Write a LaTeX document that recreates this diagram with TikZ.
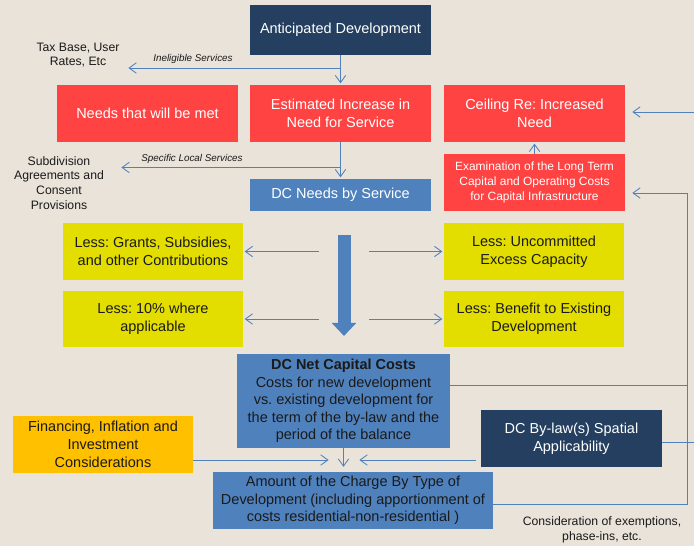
\documentclass[tikz,border=0pt]{standalone}
\usepackage{fontspec}
\setmainfont{Liberation Sans}
\usetikzlibrary{arrows.meta}
\frenchspacing

\definecolor{paper}{HTML}{E9E3DA}
\definecolor{navy}{HTML}{243F60}
\definecolor{alert}{HTML}{FF4343}
\definecolor{steel}{HTML}{4F81BD}
\definecolor{lemon}{HTML}{E3DE00}
\definecolor{amber}{HTML}{FFC000}
\definecolor{ink}{HTML}{1A1A1A}

\begin{document}
\begin{tikzpicture}[
        box/.style={shape=rectangle, inner sep=1pt, align=center, minimum width=4.525cm, minimum height=1.425cm, font=\fontsize{10.3}{12.6}\selectfont},
        dark/.style={box, fill=navy, text=white},
        hot/.style={box, fill=alert, text=white},
        calm/.style={box, fill=steel, text=white},
        less/.style={box, fill=lemon, text=ink, minimum width=4.5cm},
        note/.style={align=center, text=ink, font=\fontsize{8.7}{10.5}\selectfont},
        tag/.style={text=ink, font=\fontsize{7}{8}\selectfont\itshape},
        link/.style={draw=steel, line width=0.6pt},
        flow/.style={link, -{Straight Barb[length=1.8mm, width=2.6mm]}, shorten >=1pt}
    ]
        \fill[paper] (0, 0) rectangle (17.35, 13.65);
        \useasboundingbox (0, 0) rectangle (17.35, 13.65);

        \node[dark, minimum height=1.25cm] (B1) at (8.5125, 12.9) {Anticipated Development};
        \node[hot] (B2) at (3.6875, 10.8125) {Needs that will be met};
        \node[hot] (B3) at (8.5125, 10.8125) {Estimated Increase in\\Need for Service};
        \node[hot] (B4) at (13.3625, 10.8125) {Ceiling Re: Increased\\Need};
        \node[hot, font=\fontsize{8.5}{10.6}\selectfont] (B5) at (13.3625, 9.0875) {Examination of the Long Term\\Capital and Operating Costs\\for Capital Infrastructure};
        \node[calm, minimum height=0.8cm] (B6) at (8.5125, 8.775) {DC Needs by Service};
        \node[less] (B7) at (3.825, 7.3625) {Less: Grants, Subsidies,\\and other Contributions};
        \node[less] (B8) at (13.35, 7.3625) {Less: Uncommitted\\Excess Capacity};
        \node[less, minimum height=1.4cm] (B9) at (3.825, 5.675) {Less: 10\% where\\applicable};
        \node[less, minimum height=1.4cm] (B10) at (13.35, 5.675) {Less: Benefit to Existing\\Development};
        \node[calm, text=ink, minimum width=5.325cm, minimum height=2.35cm, font=\fontsize{10.3}{12.4}\selectfont] (B11) at (8.5875, 3.625) {\textbf{DC Net Capital Costs}\\Costs for new development\\vs. existing development for\\the term of the by-law and the\\period of the balance};
        \node[box, fill=amber, text=ink, minimum width=4.5cm] (B12) at (2.575, 2.5375) {Financing, Inflation and\\Investment\\Considerations};
        \node[dark] (B13) at (14.2875, 2.6875) {DC By-law(s) Spatial\\Applicability};
        \node[calm, text=ink, minimum width=7cm] (B14) at (8.825, 1.1375) {Amount of the Charge By Type of\\Development (including apportionment of\\costs residential-non-residential )};

        \node[note] (L1) at (1.95, 12.275) {Tax Base, User\\Rates, Etc};
        \node[note] (L2) at (1.475, 9.075) {Subdivision\\Agreements and\\Consent\\Provisions};
        \node[note] (L3) at (15.05, 0.4) {Consideration of exemptions,\\phase-ins, etc.};
        \node[tag] (L4) at (4.825, 12.175) {Ineligible Services};
        \node[tag] (L5) at (4.8, 9.675) {Specific Local Services};

        \coordinate (C1) at (8.5125, 11.95);
        \coordinate (C2) at (3.175, 11.95);
        \coordinate (C3) at (8.5125, 9.4625);
        \coordinate (C4) at (3.0, 9.4625);
        \coordinate (C5) at (8.6, 7.775);
        \coordinate (C6) at (8.6, 5.25);
        \coordinate (C7) at (7.975, 0);
        \coordinate (C8) at (9.225, 0);
        \coordinate (C9) at (8.25, 2.15);
        \coordinate (C10) at (8.95, 2.15);
        \coordinate (C11) at (17.175, 4.025);
        \coordinate (C12) at (17.175, 1.05);
        \coordinate (C13) at (17.175, 8.825);
        \coordinate (C14) at (17.35, 2.6);
        \coordinate (C15) at (17.35, 10.85);

        \draw[flow] (B1) -- (B3);
        \draw[flow] (C1) -- (C2);
        \draw[flow] (B3) -- (B6);
        \draw[flow] (C3) -- (C4);
        \draw[flow] (B5) -- (B4);
        \draw[steel, line width=0.325cm, -{Triangle[length=0.33cm, width=0.6cm]}] (C5) -- (C6);
        \draw[flow] (C7 |- B7) -- (B7);
        \draw[flow] (C8 |- B8) -- (B8);
        \draw[flow] (C7 |- B9) -- (B9);
        \draw[flow] (C8 |- B10) -- (B10);
        \draw[flow, shorten >=3.5pt] (B11.south) -- (B11.south |- B14.north);
        \draw[flow] (B12.east |- C9) -- (C9);
        \draw[flow, shorten <=3.5pt] (B13.west |- C10) -- (C10);
        \draw[link] (B11.east |- C11) -- (C11);
        \draw[flow, shorten >=5pt] (B14.east |- C12) -- (C12) -- (C13) -- (B5.east |- C13);
        \draw[link] (B13.east |- C14) -- (C14);
        \draw[flow, shorten >=5pt] (C15) -- (B4.east |- C15);
    \end{tikzpicture}
\end{document}
